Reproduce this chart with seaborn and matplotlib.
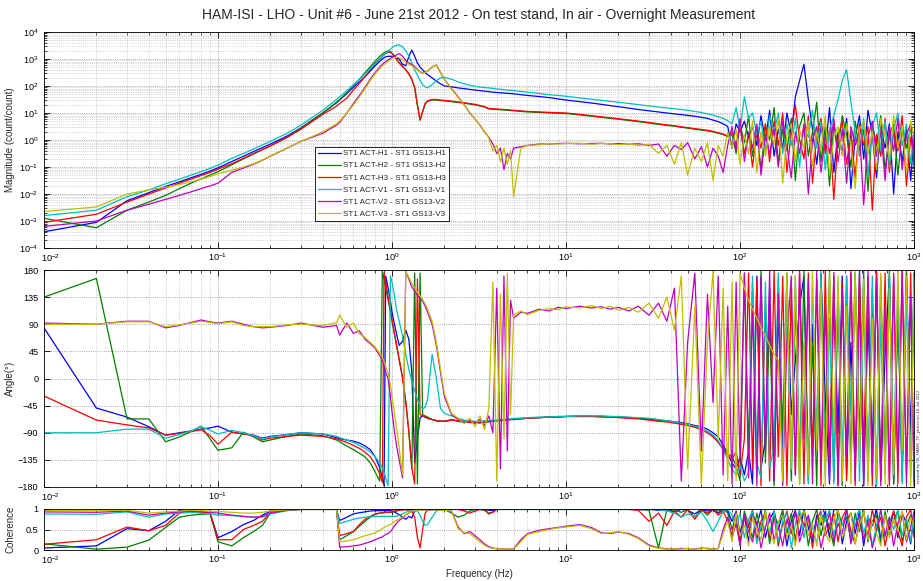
import numpy as np
import matplotlib
matplotlib.use("Agg")
import matplotlib.pyplot as plt
import matplotlib.transforms as mtransforms
import seaborn as sns
from matplotlib.ticker import LogLocator, NullFormatter, LogFormatterSciNotation

# ---------------------------------------------------------------- data
freq = [
    0.01, 0.02, 0.03, 0.04, 0.05, 0.06, 0.07, 0.08, 0.09, 0.10,
    0.12, 0.14, 0.16, 0.18, 0.20, 0.25, 0.30, 0.40, 0.48, 0.50,
    0.55, 0.60, 0.65, 0.70, 0.75, 0.80, 0.85, 0.88, 0.90, 0.92,
    0.95, 0.98, 1.00, 1.03, 1.06, 1.10, 1.15, 1.20, 1.25, 1.30,
    1.35, 1.40, 1.45, 1.50, 1.55, 1.60, 1.70, 1.80, 1.90, 2.00,
    2.2, 2.4, 2.6, 2.8, 3.0, 3.2, 3.4, 3.6, 3.8, 4.0,
    4.2, 4.4, 4.6, 4.8, 5.0, 5.5, 6.0, 7.0, 8.0, 9.0,
    10, 12, 14, 16, 18, 20, 23, 26, 30, 34,
    38, 42, 46, 50, 55, 60, 65, 70, 75, 80,
    85, 90, 95, 100, 106, 112, 118, 125, 132, 140,
    148, 157, 166, 176, 186, 197, 208, 220, 233, 247,
    261, 276, 292, 309, 327, 346, 366, 387, 410, 434,
    459, 486, 514, 544, 576, 609, 644, 682, 722, 764,
    808, 855, 905, 957, 1000,
]

series_names = [
    "ST1 ACT-H1 - ST1 GS13-H1",
    "ST1 ACT-H2 - ST1 GS13-H2",
    "ST1 ACT-H3 - ST1 GS13-H3",
    "ST1 ACT-V1 - ST1 GS13-V1",
    "ST1 ACT-V2 - ST1 GS13-V2",
    "ST1 ACT-V3 - ST1 GS13-V3",
]
series_colors = ["#0000FF", "#008000", "#FF0000", "#00BFBF", "#BF00BF", "#BFBF00"]

# transfer function magnitude, log10(count/count)
logmag_h1 = [
    -3.40, -3.05, -2.25, -1.95, -1.72, -1.55, -1.40, -1.27, -1.15, -1.03,
    -0.80, -0.60, -0.43, -0.28, -0.15, 0.15, 0.45, 1.00, 1.38, 1.48,
    1.72, 1.95, 2.15, 2.35, 2.55, 2.75, 2.92, 3.00, 3.05, 3.08,
    3.10, 3.10, 3.10, 3.08, 3.05, 3.00, 2.80, 2.75, 3.10, 3.33,
    3.10, 2.85, 2.70, 2.60, 2.50, 2.42, 2.30, 2.18, 2.08, 2.00,
    1.97, 1.93, 1.90, 1.87, 1.85, 1.83, 1.81, 1.79, 1.77, 1.76,
    1.75, 1.74, 1.73, 1.72, 1.71, 1.68, 1.65, 1.61, 1.57, 1.52,
    1.48, 1.42, 1.37, 1.32, 1.28, 1.24, 1.18, 1.13, 1.08, 1.04,
    1.00, 0.97, 0.94, 0.91, 0.88, 0.84, 0.80, 0.74, 0.68, 0.60,
    0.50, -0.30, 0.60, 0.30, 0.70, 0.10, 0.50, -0.20, 0.90, 0.00,
    1.10, -0.60, 0.40, -0.30, 1.00, 0.20, 1.60, 2.20, 2.80, 1.50,
    0.40, -0.90, 0.60, -0.40, 1.20, -1.20, 0.30, -0.50, 0.80, -1.80,
    0.10, 0.90, -0.70, 1.10, 0.20, -1.40, 0.50, -0.30, 0.60, -2.00,
    0.30, -0.80, 0.40, -1.50, 0.20,
]
logmag_h2 = [
    -2.90, -3.25, -2.60, -2.30, -2.05, -1.80, -1.60, -1.44, -1.30, -1.17,
    -0.92, -0.70, -0.52, -0.36, -0.22, 0.10, 0.43, 1.00, 1.40, 1.50,
    1.75, 2.00, 2.25, 2.50, 2.72, 2.92, 3.10, 3.18, 3.23, 3.27,
    3.30, 3.28, 3.22, 3.12, 3.00, 2.86, 2.72, 2.60, 2.44, 2.24,
    1.93, 1.28, 0.73, 1.03, 1.33, 1.43, 1.48, 1.48, 1.46, 1.45,
    1.42, 1.39, 1.36, 1.33, 1.30, 1.26, 1.22, 1.15, 1.14, 1.13,
    1.12, 1.11, 1.10, 1.09, 1.08, 1.06, 1.04, 1.02, 1.00, 0.99,
    0.98, 0.93, 0.88, 0.84, 0.80, 0.77, 0.72, 0.68, 0.63, 0.58,
    0.54, 0.51, 0.47, 0.44, 0.40, 0.37, 0.34, 0.30, 0.25, 0.20,
    0.12, 0.20, -0.50, 0.60, -0.10, 0.90, -0.60, 0.30, -1.10, 0.50,
    0.00, 1.20, -0.90, 0.40, -0.40, 0.80, -1.50, 0.50, 1.00, -0.60,
    0.30, 1.40, -0.80, 0.50, -1.70, 0.60, -0.30, 0.90, 0.20, -1.00,
    0.70, -0.40, 0.40, -1.90, 0.60, -0.20, 0.90, -1.10, 0.20, 0.60,
    -1.30, 0.40, -0.30, 0.50, -1.00,
]
logmag_h3 = [
    -3.05, -2.75, -2.30, -2.00, -1.78, -1.60, -1.45, -1.32, -1.20, -1.08,
    -0.88, -0.68, -0.50, -0.35, -0.22, 0.10, 0.40, 0.95, 1.25, 1.35,
    1.55, 1.85, 2.10, 2.35, 2.60, 2.82, 3.00, 3.10, 3.15, 3.20,
    3.25, 3.25, 3.20, 3.12, 3.00, 2.85, 2.72, 2.60, 2.45, 2.25,
    1.95, 1.30, 0.75, 1.05, 1.35, 1.45, 1.50, 1.50, 1.48, 1.47,
    1.44, 1.41, 1.38, 1.35, 1.32, 1.28, 1.24, 1.17, 1.16, 1.15,
    1.14, 1.13, 1.12, 1.11, 1.10, 1.08, 1.06, 1.04, 1.02, 1.01,
    1.00, 0.95, 0.90, 0.86, 0.82, 0.79, 0.74, 0.70, 0.65, 0.60,
    0.56, 0.53, 0.49, 0.46, 0.42, 0.39, 0.36, 0.32, 0.27, 0.22,
    0.15, 0.30, -0.20, 0.50, -0.50, 0.20, -1.00, 0.40, -0.30, 0.60,
    -0.80, 0.70, -0.20, 1.00, -1.20, 0.30, 1.30, 0.00, -0.70, 0.90,
    -1.60, 0.20, 0.80, -0.50, 0.40, -2.20, 0.10, 0.70, -0.90, 0.30,
    -1.40, 0.60, -0.20, 0.50, -2.60, 0.20, -0.60, 0.80, -1.20, 0.30,
    -0.40, 0.90, -1.70, 0.10, -0.50,
]
logmag_v1 = [
    -2.80, -2.60, -2.10, -1.85, -1.62, -1.45, -1.30, -1.17, -1.05, -0.93,
    -0.68, -0.50, -0.33, -0.18, -0.05, 0.25, 0.55, 1.10, 1.50, 1.60,
    1.82, 2.05, 2.25, 2.45, 2.65, 2.85, 3.00, 3.10, 3.15, 3.20,
    3.28, 3.36, 3.42, 3.48, 3.50, 3.52, 3.45, 3.30, 3.10, 2.85,
    2.60, 2.40, 2.20, 2.05, 1.97, 1.93, 2.05, 2.20, 2.30, 2.32,
    2.25, 2.15, 2.08, 2.03, 1.99, 1.96, 1.94, 1.93, 1.91, 1.89,
    1.88, 1.86, 1.85, 1.84, 1.83, 1.80, 1.77, 1.72, 1.68, 1.65,
    1.62, 1.56, 1.51, 1.47, 1.43, 1.40, 1.35, 1.31, 1.26, 1.22,
    1.19, 1.16, 1.13, 1.10, 1.06, 1.02, 0.97, 0.92, 0.86, 0.80,
    0.72, 0.60, 1.20, 0.40, 1.60, 0.80, 1.00, 0.20, 0.70, -0.40,
    0.90, 0.30, 1.00, -0.50, 0.60, -0.20, 0.80, -1.00, 0.50, 0.10,
    1.10, -0.30, 0.70, -1.10, 0.40, 0.90, 1.50, 2.20, 2.60, 1.40,
    0.30, -0.60, 0.80, -1.30, 0.50, 1.00, -0.40, 0.70, -1.00, 0.40,
    1.00, -0.20, 0.60, -0.90, 0.30,
]
logmag_v2 = [
    -3.20, -3.00, -2.60, -2.38, -2.20, -2.05, -1.92, -1.80, -1.70, -1.60,
    -1.20, -1.04, -0.90, -0.75, -0.60, -0.30, -0.05, 0.25, 0.55, 0.65,
    1.00, 1.35, 1.65, 1.95, 2.25, 2.50, 2.70, 2.80, 2.85, 2.90,
    2.97, 3.02, 3.05, 3.10, 3.15, 3.20, 3.10, 2.95, 2.85, 2.80,
    2.72, 2.62, 2.52, 2.48, 2.50, 2.55, 2.70, 2.78, 2.50, 2.25,
    1.90, 1.60, 1.30, 1.00, 0.78, 0.55, 0.30, 0.10, -0.15, -0.50,
    -0.30, -1.10, -0.50, -0.70, -0.30, -0.25, -0.20, -0.15, -0.15, -0.13,
    -0.12, -0.14, -0.13, -0.12, -0.15, -0.13, -0.16, -0.14, -0.20, -0.15,
    -0.60, -0.20, -0.35, -0.10, -0.70, -0.25, -1.00, -0.30, -0.60, -1.20,
    -0.20, 0.50, -0.40, 0.80, -0.80, 0.30, -0.30, 0.60, -1.30, 0.20,
    -0.50, 0.40, -1.00, 0.70, -0.20, -1.40, 0.30, -0.50, 0.60, -2.00,
    0.00, 0.50, -1.20, 0.20, -0.50, 0.80, -0.80, 0.40, -1.60, 0.50,
    -0.20, 0.30, -2.40, 0.10, 0.70, -0.60, 0.40, -1.50, 0.50, -0.40,
    0.80, -1.10, 0.20, 0.60, -0.70,
]
logmag_v3 = [
    -2.65, -2.48, -2.00, -1.85, -1.75, -1.65, -1.55, -1.45, -1.35, -1.25,
    -1.12, -1.00, -0.88, -0.74, -0.60, -0.30, -0.05, 0.30, 0.60, 0.70,
    1.00, 1.30, 1.60, 1.90, 2.20, 2.45, 2.65, 2.75, 2.80, 2.85,
    2.92, 2.98, 3.02, 3.05, 3.07, 3.05, 2.98, 2.88, 2.80, 2.75,
    2.68, 2.60, 2.52, 2.48, 2.50, 2.56, 2.70, 2.77, 2.50, 2.25,
    1.88, 1.58, 1.30, 1.02, 0.78, 0.55, 0.32, 0.08, -0.40, -0.20,
    -0.80, -0.30, -0.90, -0.40, -2.10, -0.30, -0.20, -0.18, -0.14, -0.15,
    -0.13, -0.12, -0.16, -0.13, -0.14, -0.17, -0.15, -0.20, -0.16, -0.50,
    -0.20, -0.90, -0.10, -1.30, -0.30, -0.80, -0.10, -1.50, -0.20, -0.60,
    0.30, -0.30, 0.40, -0.90, 0.20, -0.50, 0.70, -1.20, 0.30, -0.60,
    0.50, -0.20, 0.80, -1.60, 0.20, 0.60, -0.80, 0.40, -0.30, 0.70,
    -1.00, 0.30, -0.40, 0.90, -1.30, 0.10, 0.50, -0.60, 0.60, -0.20,
    -1.80, 0.40, 0.70, -0.50, 0.30, -1.10, 0.80, 0.10, -0.70, 0.90,
    -0.30, 0.50, -1.20, 0.70, 0.20,
]

# phase, degrees (wrapped)
phase_h1 = [
    84, -49, -64, -80, -94, -90, -87, -84, -82, -79,
    -89, -92, -94, -99, -96, -93, -90, -92, -98, -100,
    -102, -104, -107, -112, -118, -130, -148, -165, -178, 170,
    150, 128, 110, 92, 75, 55, 62, 80, 65, 10,
    -140, -100, -65, -62, -64, -66, -68, -70, -71, -71,
    -69, -70, -72, -73, -73, -73, -72, -72, -71, -70,
    -70, -69, -69, -68, -68, -67, -66, -65, -64, -64,
    -63, -63, -63, -63, -64, -64, -65, -66, -67, -69,
    -70, -72, -73, -75, -78, -80, -84, -90, -97, -110,
    -125, -140, -150, -130, -160, -120, -175, 170, -150, -100,
    150, -170, 120, -140, 160, -60, 30, 120, 170, -170,
    90, -120, 175, -30, -175, 140, -90, 170, -160, 60,
    -150, 178, -178, 100, -120, 175, -170, 40, 170, -175,
    120, -160, 175, -100, 150,
]
phase_h2 = [
    135, 166, -67, -67, -105, -97, -88, -79, -100, -119,
    -115, -89, -97, -105, -102, -96, -92, -95, -102, -105,
    -112, -118, -124, -130, -140, -155, -170, 178, 165, 150,
    130, 110, 95, 75, 55, 30, 0, -40, -90, -150,
    175, -175, 175, -60, -62, -64, -68, -70, -71, -71,
    -68, -71, -73, -72, -74, -73, -72, -71, -71, -70,
    -69, -69, -68, -68, -67, -66, -66, -65, -64, -63,
    -63, -62, -62, -63, -63, -64, -65, -66, -68, -70,
    -71, -73, -75, -77, -80, -83, -88, -95, -105, -115,
    -125, -130, -145, -170, 175, -120, 160, -160, 178, -140,
    100, -178, 165, -90, 175, -170, 140, -175, 178, -150,
    60, -178, 170, -120, 178, -170, 130, -178, 170, -150,
    175, -100, 178, -170, 150, -178, 170, -140, 178, -175,
    120, -170, 178, -150, 175,
]
phase_h3 = [
    -29, -69, -77, -82, -94, -91, -88, -85, -95, -109,
    -89, -92, -95, -102, -99, -96, -94, -96, -100, -102,
    -106, -111, -116, -122, -130, -142, -158, -172, 175, 160,
    135, 112, 98, 78, 58, 32, 2, -38, -88, -148,
    -175, 165, -60, -62, -64, -66, -68, -70, -71, -71,
    -69, -70, -71, -73, -72, -74, -72, -71, -71, -70,
    -70, -69, -69, -68, -68, -67, -66, -65, -64, -64,
    -63, -63, -63, -64, -64, -65, -66, -67, -69, -71,
    -72, -74, -76, -78, -81, -85, -90, -97, -106, -118,
    -128, -135, -120, -160, -100, 175, -150, 165, -178, 130,
    -170, 178, -130, 170, -178, 150, -160, 178, -175, 175,
    -130, 165, -178, 178, -140, 170, -178, 160, -170, 178,
    -178, 175, -120, 170, -178, 178, -165, 175, -178, 170,
    -175, 178, -160, 175, -178,
]
phase_v1 = [
    -90, -90, -84, -84, -99, -93, -87, -80, -86, -92,
    -86, -90, -95, -100, -97, -93, -90, -92, -96, -98,
    -102, -106, -111, -116, -122, -130, -140, -148, -155, -165,
    -178, 170, 160, 140, 115, 95, 70, 40, 15, -5,
    -20, -35, -45, -50, -48, -35, 40, 0, -50, -58,
    -62, -66, -69, -70, -71, -71, -70, -70, -69, -69,
    -68, -68, -67, -67, -66, -66, -65, -64, -64, -63,
    -63, -62, -62, -62, -63, -63, -64, -65, -66, -68,
    -70, -72, -74, -76, -79, -83, -88, -94, -103, -117,
    -135, -150, -160, -145, -170, -155, 170, -140, -165, 160,
    -150, -110, 175, -170, 130, -150, 170, -130, 60, -175,
    150, -90, 178, -160, 100, -175, 160, -140, 170, -60,
    175, -170, 120, -150, 170, -178, 90, -160, 175, -130,
    160, -175, 140, -165, 170,
]
phase_v2 = [
    92, 90, 95, 95, 84, 88, 93, 97, 94, 92,
    95, 90, 86, 84, 85, 88, 92, 85, 88, 72,
    92, 75, 79, 65, 58, 50, 38, 31, 20, 10,
    0, -30, -55, -85, -110, -135, -165, 178, 165, 152,
    145, 138, 133, 128, 120, 110, 90, 55, 10, -30,
    -60, -68, -72, -70, -74, -68, -78, -62, -90, 150,
    -150, 170, -120, 130, 100, 110, 108, 115, 112, 118,
    116, 120, 117, 119, 115, 118, 112, 120, 105, 125,
    95, 150, -170, 60, 175, -120, 140, -40, 170, -160,
    120, -175, 160, -140, 175, -165, 120, -178, 170, -120,
    178, -170, 140, -178, 60, 170, -160, 175, -100, 165,
    -175, 178, -150, 120, -170, 176, -178, 150, -130, 175,
    -170, 130, -175, 178, -160, 165, -178, 120, -170, 175,
    -150, 178, -175, 140, -170,
]
phase_v3 = [
    90, 90, 94, 94, 86, 89, 92, 95, 93, 91,
    94, 88, 86, 86, 86, 89, 90, 88, 92, 105,
    85, 92, 74, 68, 60, 52, 42, 35, 28, 20,
    8, -10, -30, -55, -80, -115, -160, 178, 168, 158,
    150, 143, 137, 131, 124, 115, 95, 60, 15, -25,
    -58, -66, -75, -66, -80, -62, -85, -50, 160, -170,
    140, -100, 175, -60, 105, 112, 106, 113, 116, 114,
    119, 117, 121, 116, 120, 113, 118, 110, 125, 100,
    135, 80, 170, -150, 120, -175, 60, 178, -100, 150,
    -170, 160, -170, 175, 150, 130, 115, 100, 85, 70,
    55, 40, 30, -170, 175, -150, 170, -175, 60, -160,
    178, -120, 150, -178, 175, -90, 170, -170, 120, -175,
    178, -140, 165, -178, 100, -165, 175, -175, 150, -160,
    178, -120, 170, -178, 165,
]

# coherence
coh_h1 = [
    0.05, 0.10, 0.52, 0.47, 0.70, 0.97, 0.95, 0.92, 0.90, 0.30,
    0.45, 0.62, 0.72, 0.85, 0.95, 0.98, 0.99, 0.99, 0.99, 0.72,
    0.80, 0.88, 0.91, 0.93, 0.95, 0.96, 0.96, 0.96, 0.96, 0.96,
    0.96, 0.96, 0.95, 0.93, 0.90, 0.86, 0.80, 0.75, 0.82, 0.78,
    0.95, 0.99, 0.99, 0.99, 0.99, 0.98, 0.99, 0.99, 0.99, 0.99,
    0.99, 0.99, 0.98, 0.99, 0.99, 0.99, 0.98, 0.97, 0.96, 0.99,
    0.99, 0.99, 0.99, 0.99, 0.99, 0.99, 0.99, 0.99, 0.99, 0.99,
    0.99, 0.99, 0.99, 0.99, 0.99, 0.99, 0.99, 0.98, 0.99, 0.97,
    0.99, 0.93, 0.99, 0.97, 0.88, 0.99, 0.95, 0.98, 0.90, 0.99,
    0.95, 0.70, 0.95, 0.40, 0.85, 0.20, 0.90, 0.60, 0.98, 0.30,
    0.75, 0.95, 0.50, 0.88, 0.10, 0.70, 0.97, 0.35, 0.99, 0.55,
    0.20, 0.85, 0.60, 0.95, 0.30, 0.99, 0.98, 0.15, 0.70, 0.90,
    0.40, 0.95, 0.10, 0.80, 0.60, 0.99, 0.25, 0.85, 0.50, 0.95,
    0.30, 0.90, 0.65, 0.15, 0.85,
]
coh_h2 = [
    0.15, 0.02, 0.07, 0.24, 0.55, 0.80, 0.85, 0.87, 0.88, 0.20,
    0.10, 0.30, 0.45, 0.60, 0.90, 0.97, 0.99, 0.99, 0.99, 0.25,
    0.35, 0.45, 0.58, 0.70, 0.80, 0.87, 0.90, 0.91, 0.92, 0.92,
    0.92, 0.92, 0.92, 0.93, 0.95, 0.97, 0.98, 0.99, 0.99, 0.99,
    0.99, 0.99, 0.99, 0.99, 0.99, 0.99, 0.99, 0.99, 0.99, 0.99,
    0.90, 0.80, 0.85, 0.95, 0.99, 0.99, 0.97, 0.90, 0.92, 0.99,
    0.99, 0.99, 0.99, 0.99, 0.99, 0.99, 0.99, 0.99, 0.99, 0.99,
    0.99, 0.99, 0.99, 0.99, 0.99, 0.99, 0.99, 0.99, 0.97, 0.05,
    0.99, 0.97, 0.92, 0.99, 0.80, 0.99, 0.85, 0.99, 0.95, 0.99,
    0.90, 0.50, 0.85, 0.20, 0.95, 0.60, 0.30, 0.90, 0.45, 0.99,
    0.15, 0.80, 0.65, 0.98, 0.40, 0.90, 0.25, 0.75, 0.95, 0.10,
    0.70, 0.99, 0.35, 0.85, 0.55, 0.10, 0.95, 0.60, 0.80, 0.25,
    0.90, 0.45, 0.99, 0.20, 0.70, 0.85, 0.15, 0.95, 0.35, 0.75,
    0.95, 0.20, 0.60, 0.85, 0.40,
]
coh_h3 = [
    0.14, 0.25, 0.56, 0.47, 0.60, 0.90, 0.95, 0.92, 0.90, 0.25,
    0.25, 0.50, 0.60, 0.70, 0.92, 0.98, 0.99, 0.99, 0.99, 0.35,
    0.40, 0.45, 0.62, 0.75, 0.82, 0.88, 0.90, 0.90, 0.91, 0.92,
    0.92, 0.92, 0.93, 0.95, 0.97, 0.98, 0.98, 0.98, 0.97, 0.95,
    0.80, 0.30, 0.05, 0.50, 0.90, 0.97, 0.99, 0.99, 0.99, 0.99,
    0.99, 0.99, 0.95, 0.90, 0.95, 0.99, 0.98, 0.88, 0.92, 0.99,
    0.99, 0.99, 0.99, 0.99, 0.99, 0.99, 0.99, 0.99, 0.99, 0.99,
    0.99, 0.99, 0.99, 0.99, 0.99, 0.99, 0.99, 0.97, 0.70, 0.90,
    0.60, 0.95, 0.80, 0.99, 0.75, 0.97, 0.90, 0.99, 0.85, 0.95,
    0.70, 0.35, 0.90, 0.15, 0.80, 0.55, 0.99, 0.25, 0.70, 0.90,
    0.30, 0.85, 0.10, 0.65, 0.95, 0.45, 0.20, 0.90, 0.60, 0.80,
    0.05, 0.75, 0.95, 0.35, 0.60, 0.90, 0.20, 0.80, 0.99, 0.45,
    0.15, 0.70, 0.90, 0.30, 0.99, 0.50, 0.80, 0.10, 0.65, 0.95,
    0.45, 0.10, 0.80, 0.99, 0.30,
]
coh_v1 = [
    0.88, 0.87, 0.93, 0.80, 0.88, 0.90, 0.92, 0.90, 0.88, 0.85,
    0.84, 0.82, 0.80, 0.80, 0.88, 0.96, 0.99, 0.99, 0.99, 0.65,
    0.70, 0.75, 0.78, 0.80, 0.81, 0.82, 0.82, 0.82, 0.82, 0.82,
    0.82, 0.82, 0.82, 0.82, 0.82, 0.85, 0.88, 0.92, 0.95, 0.96,
    0.97, 0.95, 0.85, 0.70, 0.60, 0.62, 0.80, 0.95, 0.99, 0.99,
    0.99, 0.99, 0.99, 0.99, 0.99, 0.99, 0.99, 0.99, 0.99, 0.99,
    0.99, 0.99, 0.99, 0.99, 0.99, 0.99, 0.99, 0.99, 0.99, 0.99,
    0.99, 0.99, 0.99, 0.99, 0.99, 0.99, 0.99, 0.99, 0.99, 0.99,
    0.95, 0.90, 0.80, 0.88, 0.82, 0.92, 0.70, 0.45, 0.70, 0.95,
    0.99, 0.85, 0.55, 0.90, 0.30, 0.75, 0.95, 0.15, 0.60, 0.85,
    0.40, 0.95, 0.20, 0.70, 0.90, 0.05, 0.65, 0.99, 0.30, 0.80,
    0.55, 0.15, 0.90, 0.70, 0.99, 0.35, 0.80, 0.60, 0.95, 0.20,
    0.75, 0.99, 0.40, 0.85, 0.10, 0.60, 0.95, 0.30, 0.80, 0.50,
    0.99, 0.35, 0.75, 0.20, 0.90,
]
coh_v2 = [
    0.93, 0.92, 0.95, 0.85, 0.90, 0.93, 0.95, 0.94, 0.92, 0.90,
    0.85, 0.82, 0.80, 0.82, 0.90, 0.97, 0.99, 0.99, 0.99, 0.07,
    0.08, 0.10, 0.12, 0.16, 0.20, 0.25, 0.30, 0.32, 0.35, 0.38,
    0.40, 0.45, 0.50, 0.58, 0.65, 0.72, 0.78, 0.85, 0.90, 0.94,
    0.96, 0.97, 0.98, 0.98, 0.98, 0.98, 0.98, 0.98, 0.97, 0.97,
    0.95, 0.56, 0.40, 0.45, 0.35, 0.25, 0.15, 0.08, 0.05, 0.03,
    0.02, 0.03, 0.02, 0.02, 0.03, 0.25, 0.40, 0.48, 0.52, 0.55,
    0.58, 0.62, 0.55, 0.42, 0.40, 0.44, 0.40, 0.30, 0.12, 0.05,
    0.03, 0.02, 0.04, 0.03, 0.02, 0.05, 0.03, 0.02, 0.04, 0.50,
    0.80, 0.30, 0.65, 0.10, 0.85, 0.45, 0.20, 0.70, 0.05, 0.55,
    0.90, 0.25, 0.60, 0.10, 0.75, 0.40, 0.95, 0.20, 0.55, 0.85,
    0.30, 0.70, 0.05, 0.50, 0.90, 0.20, 0.65, 0.40, 0.99, 0.15,
    0.60, 0.85, 0.25, 0.70, 0.05, 0.45, 0.99, 0.35, 0.80, 0.10,
    0.65, 0.90, 0.20, 0.55, 0.95,
]
coh_v3 = [
    0.96, 0.96, 0.97, 0.90, 0.93, 0.95, 0.97, 0.96, 0.95, 0.94,
    0.92, 0.90, 0.90, 0.92, 0.95, 0.98, 0.99, 0.99, 0.99, 0.20,
    0.22, 0.25, 0.30, 0.35, 0.38, 0.42, 0.48, 0.52, 0.55, 0.57,
    0.60, 0.62, 0.65, 0.70, 0.72, 0.76, 0.80, 0.85, 0.90, 0.94,
    0.96, 0.97, 0.98, 0.98, 0.98, 0.98, 0.98, 0.98, 0.97, 0.97,
    0.95, 0.52, 0.42, 0.40, 0.30, 0.20, 0.12, 0.06, 0.04, 0.03,
    0.02, 0.02, 0.03, 0.02, 0.02, 0.20, 0.38, 0.45, 0.50, 0.54,
    0.56, 0.60, 0.52, 0.40, 0.42, 0.45, 0.38, 0.28, 0.10, 0.04,
    0.02, 0.03, 0.02, 0.04, 0.02, 0.03, 0.05, 0.02, 0.03, 0.40,
    0.70, 0.20, 0.90, 0.35, 0.60, 0.10, 0.80, 0.50, 0.25, 0.95,
    0.45, 0.15, 0.70, 0.85, 0.30, 0.60, 0.10, 0.80, 0.95, 0.35,
    0.65, 0.10, 0.85, 0.40, 0.20, 0.75, 0.99, 0.30, 0.55, 0.90,
    0.15, 0.60, 0.95, 0.25, 0.70, 0.40, 0.10, 0.85, 0.30, 0.75,
    0.45, 0.95, 0.25, 0.80, 0.60,
]

logmag_all = [logmag_h1, logmag_h2, logmag_h3, logmag_v1, logmag_v2, logmag_v3]
phase_all = [phase_h1, phase_h2, phase_h3, phase_v1, phase_v2, phase_v3]
coh_all = [coh_h1, coh_h2, coh_h3, coh_v1, coh_v2, coh_v3]

# ---------------------------------------------------------------- style
sns.set_theme(style="white")
plt.rcParams["font.family"] = ["Liberation Sans", "DejaVu Sans"]
plt.rcParams["mathtext.fontset"] = "custom"
plt.rcParams["mathtext.rm"] = "Liberation Sans"
plt.rcParams["mathtext.it"] = "Liberation Sans:italic"
plt.rcParams["axes.linewidth"] = 0.6
plt.rcParams["axes.edgecolor"] = "black"

FS = 6.6
W, H = 923, 581
fig = plt.figure(figsize=(W / 100, H / 100), dpi=100)
fig.patch.set_facecolor("white")


def px_axes(left, top, right, bottom):
    return fig.add_axes([left / W, 1 - bottom / H, (right - left) / W, (bottom - top) / H])


ax_mag = px_axes(44, 32, 914, 248)
ax_ph = px_axes(44, 270, 914, 487)
ax_coh = px_axes(44, 509, 914, 550)


def draw(ax, table, labels=True):
    for vals, name, col in zip(table, series_names, series_colors):
        sns.lineplot(x=freq, y=vals, ax=ax, color=col, linewidth=0.9,
                     estimator=None, sort=False,
                     label=name if labels else None, legend=False)


draw(ax_mag, [list(10.0 ** np.asarray(v)) for v in logmag_all])
draw(ax_ph, phase_all, labels=False)
draw(ax_coh, coh_all, labels=False)

for ax in (ax_mag, ax_ph, ax_coh):
    ax.set_xscale("log")
    ax.set_xlim(0.01, 1000)
    ax.xaxis.set_major_locator(LogLocator(base=10, numticks=12))
    ax.xaxis.set_minor_locator(LogLocator(base=10, subs=np.arange(2, 10), numticks=100))
    ax.xaxis.set_minor_formatter(NullFormatter())
    ax.xaxis.set_major_formatter(LogFormatterSciNotation())
    ax.tick_params(which="both", direction="in", top=True, right=True,
                   bottom=True, left=True, labelsize=FS, colors="black")
    ax.tick_params(axis="x", which="major", pad=2.5)
    ax.tick_params(axis="y", which="major", pad=4)
    ax.tick_params(which="major", length=4, width=0.6)
    ax.tick_params(which="minor", length=2, width=0.5)
    ax.grid(True, which="major", linestyle=":", color="#8c8c8c", linewidth=0.6)
    ax.grid(True, which="minor", linestyle=":", color="#b4b4b4", linewidth=0.5)
    ax.set_axisbelow(True)
    ax.set_facecolor("white")
    ax.set_xlabel("")

ax_mag.set_yscale("log")
ax_mag.set_ylim(1e-4, 1e4)
ax_mag.yaxis.set_major_locator(LogLocator(base=10, numticks=12))
ax_mag.yaxis.set_minor_locator(LogLocator(base=10, subs=np.arange(2, 10), numticks=100))
ax_mag.yaxis.set_minor_formatter(NullFormatter())
ax_mag.set_ylabel("Magnitude (count/count)", fontsize=7)

ax_ph.set_ylim(-180, 180)
ax_ph.set_yticks(np.arange(-180, 181, 45))
ax_ph.set_ylabel("Angle(°)", fontsize=7)

ax_coh.set_ylim(0, 1)
ax_coh.set_yticks([0, 0.5, 1])
ax_coh.set_yticklabels(["0", "0.5", "1"])
ax_coh.set_ylabel("Coherence", fontsize=7)
ax_coh.set_xlabel("Frequency (Hz)", fontsize=7, labelpad=2)

# all y labels share one column near the left edge
label_x = (15 - 44) / 870
for ax in (ax_mag, ax_ph, ax_coh):
    ax.yaxis.set_label_coords(label_x, 0.5)

leg = ax_mag.legend(loc="upper left", bbox_to_anchor=(0.3115, 0.468),
                    borderaxespad=0, fontsize=5.8, frameon=True, fancybox=False,
                    edgecolor="black", framealpha=1, handlelength=2.9,
                    handletextpad=0.25, labelspacing=0.55, borderpad=0.35)
leg.get_frame().set_linewidth(0.6)

fig.text(479 / W, 1 - 15 / H,
         "HAM-ISI - LHO - Unit #6 - June 21st 2012 - On test stand, In air - Overnight Measurement",
         ha="center", va="center", fontsize=10)

fig.text(919 / W, 1 - 436 / H, "created by ISI_HAM6_TF_plot.m on 18-Jul-2012",
         rotation=90, ha="center", va="center", fontsize=3.2, color="#333333")

# nudge the leftmost frequency label of each panel clear of the corner y labels
fig.canvas.draw()
for ax in (ax_mag, ax_ph, ax_coh):
    for tk in ax.xaxis.get_major_ticks():
        if np.isclose(tk.get_loc(), 0.01):
            tk.label1.set_transform(mtransforms.offset_copy(
                tk.label1.get_transform(), fig=fig, x=7, y=-1, units="dots"))

fig.savefig("out.png", dpi=100, facecolor="white")
